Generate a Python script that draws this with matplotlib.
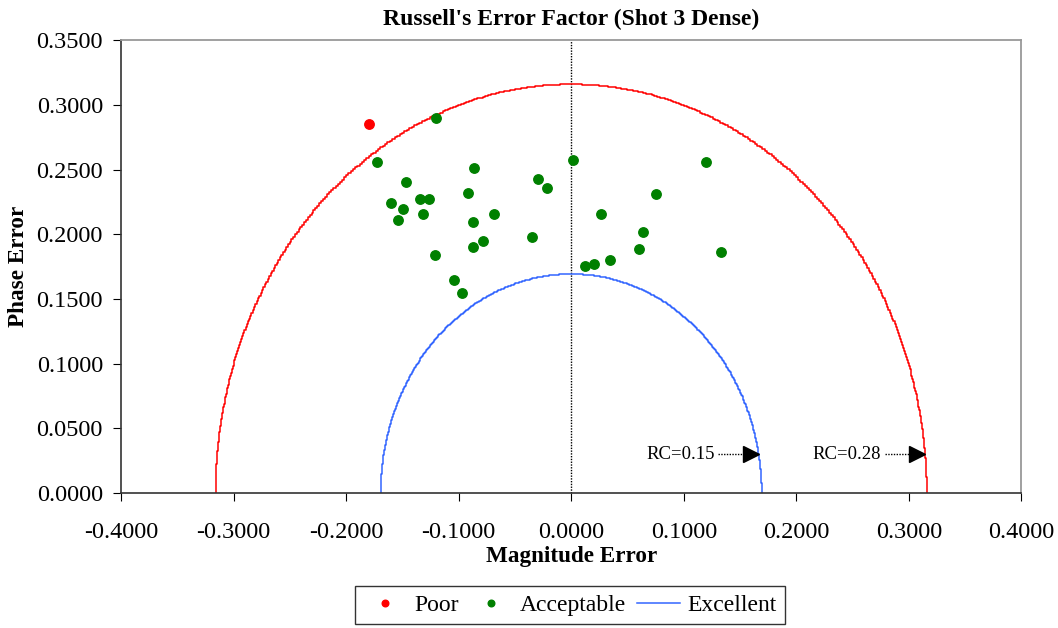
import numpy as np
import matplotlib
matplotlib.use('Agg')
import matplotlib.pyplot as plt
from matplotlib.ticker import FormatStrFormatter, MultipleLocator

plt.rcParams['font.family'] = ['Liberation Serif', 'DejaVu Serif']
plt.rcParams['axes.unicode_minus'] = False

# data
poor_mag = [-0.1796]
poor_phase = [0.2850]
acc_mag = [-0.1197, -0.1723, -0.0865, -0.1469, -0.0298, -0.0215, 0.0012,
           -0.1602, -0.1348, -0.1265, -0.1496, -0.0918, -0.1537, -0.1321,
           -0.0688, -0.0876, -0.0782, -0.0876, -0.0351, -0.1212, -0.1038,
           -0.0971, 0.0121, 0.0204, 0.1197, 0.0752, 0.0268, 0.0634,
           0.0602, 0.1330, 0.0348]
acc_phase = [0.2900, 0.2560, 0.2510, 0.2405, 0.2430, 0.2360, 0.2572,
             0.2240, 0.2275, 0.2275, 0.2195, 0.2322, 0.2110, 0.2157,
             0.2157, 0.2098, 0.1945, 0.1900, 0.1982, 0.1840, 0.1650,
             0.1546, 0.1757, 0.1770, 0.2557, 0.2312, 0.2157, 0.2015,
             0.1886, 0.1860, 0.1804]
rc_values = [0.15, 0.28]
rc_colors = ['#3366FF', '#FF0000']
arrow_y = 0.03

fig = plt.figure(figsize=(10.58, 6.28), dpi=100)
ax = fig.add_axes([0.1144, 0.215, 0.851, 0.721])

theta = np.linspace(0, np.pi, 400)
lines = []
for rc, col in zip(rc_values, rc_colors):
    r = rc / np.sqrt(np.pi / 4)
    ln, = ax.plot(r * np.cos(theta), r * np.sin(theta), color=col, lw=1.1,
                  drawstyle='steps-mid', zorder=2)
    lines.append(ln)
    # dotted arrow pointing at the curve
    tip = np.sqrt(r * r - arrow_y * arrow_y)
    ax.plot([tip - 0.036, tip - 0.012], [arrow_y, arrow_y], color='black',
            ls=(0, (1, 1)), lw=1.0, zorder=3)
    ax.plot([tip - 0.007], [arrow_y], marker='>', color='black', ms=12,
            ls='none', zorder=3)
    ax.text(tip - 0.039, arrow_y, 'RC=%.2f' % rc, ha='right', va='center',
            fontsize=13.5)

ax.plot([0, 0], [0, 0.35], color='black', ls=(0, (1, 1)), lw=1.0, zorder=1)

p1, = ax.plot(poor_mag, poor_phase, 'o', color='#FF0000', ms=6.8, ls='none')
p2, = ax.plot(acc_mag, acc_phase, 'o', color='#008000', ms=6.8, ls='none')

ax.set_xlim(-0.4, 0.4)
ax.set_ylim(0, 0.35)
ax.xaxis.set_major_locator(MultipleLocator(0.1))
ax.yaxis.set_major_locator(MultipleLocator(0.05))
ax.xaxis.set_major_formatter(FormatStrFormatter('%.4f'))
ax.yaxis.set_major_formatter(FormatStrFormatter('%.4f'))
ax.tick_params(direction='out', length=6, labelsize=17.5, pad=7)
ax.tick_params(axis='x', pad=15)
for s in ['top', 'right']:
    ax.spines[s].set_color('#999999')
    ax.spines[s].set_linewidth(1.3)
for s in ['left', 'bottom']:
    ax.spines[s].set_color('#333333')
    ax.spines[s].set_linewidth(1.2)

ax.set_title("Russell's Error Factor (Shot 3 Dense)", fontsize=17,
             fontweight='bold', pad=11)
ax.set_xlabel('Magnitude Error', fontsize=16.7, fontweight='bold', labelpad=2)
ax.set_ylabel('Phase Error', fontsize=16.7, fontweight='bold', labelpad=5)

leg = fig.legend([p1, p2, lines[0]], ['Poor', 'Acceptable', 'Excellent'],
                 loc='lower center', bbox_to_anchor=(0.539, 0.002), ncol=3,
                 fontsize=17, frameon=True, fancybox=False,
                 handlelength=1.8, columnspacing=0.45, handletextpad=0.35,
                 markerscale=0.7, borderpad=0.35, borderaxespad=0.1)
leg.get_frame().set_edgecolor('black')
leg.get_frame().set_linewidth(1.0)

fig.savefig('out.png', dpi=100)
